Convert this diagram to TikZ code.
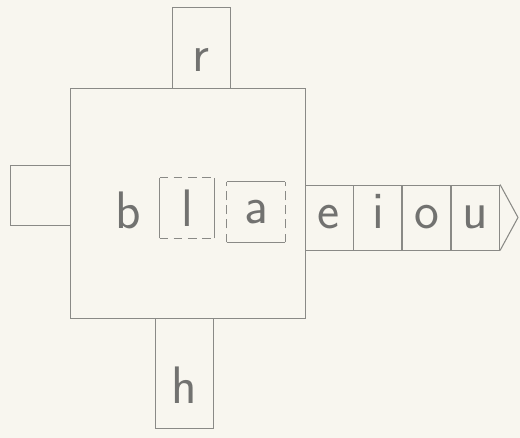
\documentclass[tikz,border=0pt]{standalone}
\usepackage{tikz}
\usetikzlibrary{positioning, calc}
\usepackage{xcolor}
\definecolor{paper}{HTML}{F8F6EF}
\definecolor{pencil}{HTML}{8A8A86}
\definecolor{lead}{HTML}{727270}
\tikzset{
  sketchbox/.style={draw=pencil, line width=0.5pt, inner sep=0pt},
  letter/.style={text=lead, font=\sffamily\fontsize{30}{32}\selectfont, inner sep=0pt},
  cellbox/.style={sketchbox, minimum width=0.96cm, minimum height=1.3cm, text=lead,
                  font=\sffamily\fontsize{30}{32}\selectfont, text height=13pt, text depth=0pt},
  pencilline/.style={draw=pencil, line width=0.6pt},
  dashline/.style={draw=pencil, line width=0.6pt, dash pattern=on 5pt off 3pt}
}

\begin{document}
\begin{tikzpicture}
        \fill[paper] (0,0) rectangle (10.4,8.76);
        \useasboundingbox (0,0) rectangle (10.4,8.76);

        % side pieces
        \node[sketchbox, minimum width=1.16cm, minimum height=1.62cm] (rbox) at (4.02,7.81) {};
        \node[sketchbox, minimum width=1.16cm, minimum height=2.20cm] (hbox) at (3.68,1.30) {};
        \node[sketchbox, minimum width=1.20cm, minimum height=1.20cm] (leftbox) at (0.80,4.86) {};
        \node[letter] (r) at (4.02,7.56) {r};
        \node[letter] (h) at (3.68,1.06) {h};

        % main square
        \node[sketchbox, fill=paper, minimum width=4.70cm, minimum height=4.60cm] (square) at (3.75,4.70) {};

        \node[letter] (b) at (2.56,4.56) {b};

        \node[letter, minimum width=1.08cm, minimum height=1.20cm] (lbox) at (3.74,4.60) {l};
        \draw[pencilline] (lbox.south west) -- (lbox.north west);
        \draw[pencilline] (lbox.south east) -- (lbox.north east);
        \draw[dashline] (lbox.north west) -- (lbox.north east);
        \draw[dashline] (lbox.south west) -- (lbox.south east);

        \node[letter, minimum width=1.16cm, minimum height=1.20cm] (abox) at (5.12,4.52) {a};
        \draw[pencilline] (abox.north west) -- (abox.north east);
        \draw[pencilline] (abox.south west) -- (abox.south east);
        \draw[dashline] (abox.south west) -- (abox.north west);
        \draw[dashline] (abox.south east) -- (abox.north east);

        % vowel strip
        \node[cellbox] (e) at (6.58,4.41) {e};
        \node[cellbox, right=0pt of e] (i) {i};
        \node[cellbox, right=0pt of i] (o) {o};
        \node[cellbox, right=0pt of o] (u) {u};
        \coordinate (tip) at (10.36,4.41);
        \draw[pencilline] (u.north east) -- (tip) -- (u.south east);
      \end{tikzpicture}
\end{document}
